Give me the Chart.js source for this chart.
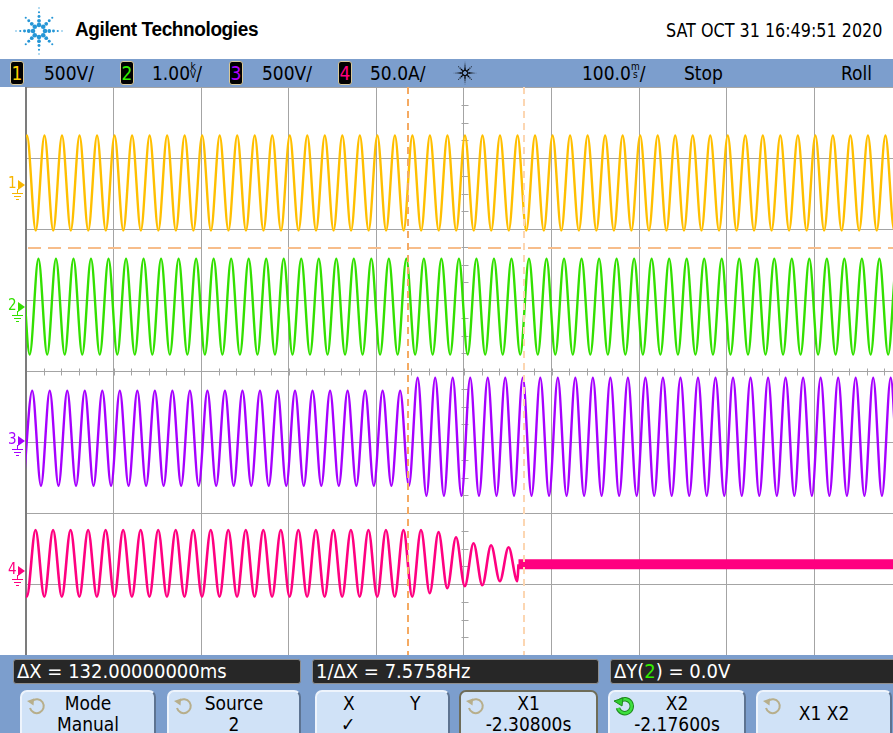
<!DOCTYPE html>
<html>
<head>
<meta charset="utf-8">
<script src="https://cdn.jsdelivr.net/npm/chart.js@4.4.1/dist/chart.umd.min.js"></script>
<style>
  body { margin:0; width:893px; height:733px; overflow:hidden; background:#fff; position:relative;
         font-family:"Liberation Sans Narrow","DejaVu Sans Condensed","Liberation Sans",sans-serif; color:#000; }
  #head { position:absolute; left:0; top:0; width:893px; height:59px; background:#fff; }
  #logo { position:absolute; left:14px; top:5px; }
  #brand { position:absolute; left:75px; top:18px; font:bold 20px "Liberation Sans",Arial,sans-serif; letter-spacing:-0.4px;
           transform:scaleX(0.95); transform-origin:left center; }
  #stamp { position:absolute; right:11px; top:19px; font-size:19px; transform:scaleX(0.935); transform-origin:right center; }
  .bar { position:absolute; left:0; width:893px; background:#7c9ecd; }
  #chbar { top:59px; height:28px; }
  .lbl { position:absolute; top:0; line-height:28px; font-size:19px; white-space:nowrap; }
  .chn { position:absolute; top:2px; width:12px; height:22px; background:#000; border:1px solid #d8c99a;
         border-radius:3px; font-size:19px; line-height:22px; text-align:center; }
  .stk { display:inline-block; font-size:10px; line-height:8px; vertical-align:2px; text-align:center; }
  #spark { position:absolute; left:452px; top:2px; }
  #plot { position:absolute; left:0; top:80px; }
  #meas { top:655px; height:35px; }
  .mbox { position:absolute; top:4px; height:25px; background:#272727; border:1px solid #8f8f8f; border-radius:3px;
          color:#fff; font-size:20px; line-height:23px; padding-left:3px; box-sizing:border-box; white-space:nowrap; overflow:hidden; }
  #keys { top:689px; height:44px; }
  .key { position:absolute; top:1px; height:50px; background:#d0e2f7; border:2px solid #eef4fc; border-right-color:#5d7391;
         border-radius:7px 7px 0 0; box-sizing:border-box; text-align:center; font-size:19px; line-height:21px; padding-top:1px; }
  .key svg { position:absolute; left:4px; top:4px; }
</style>
</head>
<body>
<canvas id="plot" width="910" height="584" style="width:910px;height:584px"></canvas>

<div id="head">
  <canvas id="logo" width="50" height="52"></canvas>
  <div id="brand">Agilent Technologies</div>
  <div id="stamp">SAT OCT 31 16:49:51 2020</div>
</div>

<div id="chbar" class="bar">
  <div class="chn" style="left:10px;color:#ffd000">1</div>
  <div class="lbl" style="left:44px">500V/</div>
  <div class="chn" style="left:120px;color:#33ee00">2</div>
  <div class="lbl" style="left:152px">1.00<span class="stk">k<br>V</span>/</div>
  <div class="chn" style="left:229px;color:#b000ff">3</div>
  <div class="lbl" style="left:262px">500V/</div>
  <div class="chn" style="left:338px;color:#ff0080">4</div>
  <div class="lbl" style="left:370px">50.0A/</div>
  <canvas id="spark" width="26" height="24"></canvas>
  <div class="lbl" style="left:582px">100.0<span class="stk">m<br>s</span>/</div>
  <div class="lbl" style="left:684px">Stop</div>
  <div class="lbl" style="left:841px">Roll</div>
</div>

<div id="meas" class="bar">
  <div class="mbox" style="left:13px;width:288px">ΔX = 132.00000000ms</div>
  <div class="mbox" style="left:312px;width:287px">1/ΔX = 7.5758Hz</div>
  <div class="mbox" style="left:610px;width:290px">ΔY(<span style="color:#33ee00">2</span>) = 0.0V</div>
</div>

<div id="keys" class="bar">
  <div class="key" style="left:20px;width:136px"><svg width="22" height="20"><path d="M6 5 A7 7 0 1 1 4 12" fill="none" stroke="#b7ae8b" stroke-width="2"/><path d="M1 5 L8 2.5 L7.5 9.5 Z" fill="#b7ae8b"/></svg>Mode<br>Manual</div>
  <div class="key" style="left:167px;width:134px"><svg width="22" height="20"><path d="M6 5 A7 7 0 1 1 4 12" fill="none" stroke="#b7ae8b" stroke-width="2"/><path d="M1 5 L8 2.5 L7.5 9.5 Z" fill="#b7ae8b"/></svg>Source<br>2</div>
  <div class="key" style="left:315px;width:135px"><span style="position:absolute;left:26px">X</span><span style="position:absolute;left:93px">Y</span><span style="position:absolute;left:24px;top:22px">✓</span></div>
  <div class="key" style="left:459px;width:139px;border-color:#6e6c58"><svg width="22" height="20"><path d="M6 5 A7 7 0 1 1 4 12" fill="none" stroke="#b7ae8b" stroke-width="2"/><path d="M1 5 L8 2.5 L7.5 9.5 Z" fill="#b7ae8b"/></svg>X1<br>-2.30800s</div>
  <div class="key" style="left:608px;width:138px"><svg width="22" height="20"><path d="M6 5 A7 7 0 1 1 4 12" fill="none" stroke="#1f8a1f" stroke-width="4.5"/><path d="M6 5 A7 7 0 1 1 4 12" fill="none" stroke="#3ee03e" stroke-width="2.5"/><path d="M0 5 L9 2 L8 10 Z" fill="#2fcf2f" stroke="#1f8a1f"/></svg>X2<br>-2.17600s</div>
  <div class="key" style="left:756px;width:136px;padding-top:11px"><svg width="22" height="20"><path d="M6 5 A7 7 0 1 1 4 12" fill="none" stroke="#b7ae8b" stroke-width="2"/><path d="M1 5 L8 2.5 L7.5 9.5 Z" fill="#b7ae8b"/></svg>X1 X2</div>
</div>

<script>
// ---------- timebase: 100 ms/div, 10 div, centred on -2.244 s ----------
const xMin = -2.744, xMax = -1.744;
const xGrid = [-2.744, -2.644, -2.544, -2.444, -2.344, -2.244, -2.144, -2.044, -1.944, -1.844, -1.744];
const yGrid = [-4, -3, -2, -1, 0, 1, 2, 3, 4];
const halfPeriod = 0.010;          // 50 Hz mains -> one extremum every 10 ms

// ---------- channel setup: units per div, ground marker position (div) ----------
const ch1PerDiv = 500,  ch1Pos = 2.62;    // V
const ch2PerDiv = 1.00, ch2Pos = 0.90;    // kV
const ch3PerDiv = 500,  ch3Pos = -0.99;   // V
const ch4PerDiv = 50,   ch4Pos = -2.82;   // A

// time of first extremum on each trace (s)
const ch1Start = -2.7529;
const ch2Start = -2.7598;
const ch3Start = -2.7469;
const ch4Start = -2.7731;

// cursors
const x1Cursor = -2.308, x2Cursor = -2.176;
const yCursor = 0.83;              // kV on channel 2 (Y1 = Y2)

// ---------- sampled extrema (alternating trough / peak) ----------
const ch1Extremes = [
  -320, 348, -320, 348, -320, 348, -320, 348, -320, 348,
  -320, 348, -320, 348, -320, 348, -320, 348, -320, 348,
  -320, 348, -320, 348, -320, 348, -320, 348, -320, 348,
  -320, 348, -320, 348, -320, 348, -320, 348, -320, 348,
  -320, 348, -320, 348, -320, 348, -320, 348, -320, 348,
  -320, 348, -320, 348, -320, 348, -320, 348, -320, 348,
  -320, 348, -320, 348, -320, 348, -320, 348, -320, 348,
  -320, 348, -320, 348, -320, 348, -320, 348, -320, 348,
  -320, 348, -320, 348, -320, 348, -320, 348, -320, 348,
  -320, 348, -320, 348, -320, 348, -320, 348, -320, 348,
  -320, 348
];

const ch2Extremes = [
  -0.67, 0.68, -0.67, 0.68, -0.67, 0.68, -0.67, 0.68, -0.67, 0.68,
  -0.67, 0.68, -0.67, 0.68, -0.67, 0.68, -0.67, 0.68, -0.67, 0.68,
  -0.67, 0.68, -0.67, 0.68, -0.67, 0.68, -0.67, 0.68, -0.67, 0.68,
  -0.67, 0.68, -0.67, 0.68, -0.67, 0.68, -0.67, 0.68, -0.67, 0.68,
  -0.67, 0.68, -0.67, 0.68, -0.67, 0.68, -0.67, 0.68, -0.67, 0.68,
  -0.67, 0.68, -0.67, 0.68, -0.67, 0.68, -0.67, 0.68, -0.67, 0.68,
  -0.67, 0.68, -0.67, 0.68, -0.67, 0.68, -0.67, 0.68, -0.67, 0.68,
  -0.67, 0.68, -0.67, 0.68, -0.67, 0.68, -0.67, 0.68, -0.67, 0.68,
  -0.67, 0.68, -0.67, 0.68, -0.67, 0.68, -0.67, 0.68, -0.67, 0.68,
  -0.67, 0.68, -0.67, 0.68, -0.67, 0.68, -0.67, 0.68, -0.67, 0.68,
  -0.67, 0.68, -0.67
];

// channel 3 steps up in amplitude right at the X1 cursor
const ch3Extremes = [
  -313, 356, -313, 356, -313, 356, -313, 356, -313, 356,
  -313, 356, -313, 356, -313, 356, -313, 356, -313, 356,
  -313, 356, -313, 356, -313, 356, -313, 356, -313, 356,
  -313, 356, -313, 356, -313, 356, -313, 356, -313, 356,
  -313, 356, -313, 356, -313, 447, -384, 447, -384, 447,
  -384, 447, -384, 447, -384, 447, -384, 447, -384, 447,
  -384, 447, -384, 447, -384, 447, -384, 447, -384, 447,
  -384, 447, -384, 447, -384, 447, -384, 447, -384, 447,
  -384, 447, -384, 447, -384, 447, -384, 447, -384, 447,
  -384, 447, -384, 447, -384, 447, -384, 447, -384, 447,
  -384, 447
];

// channel 4 (peak / trough), decays and then drops to the idle level
const ch4Extremes = [
  29, -18, 29, -18, 29, -18, 29, -18, 29, -18,
  29, -18, 29, -18, 29, -18, 29, -18, 29, -18,
  29, -18, 29, -18, 29, -18, 29, -18, 29, -18,
  29, -18, 29, -18, 29, -18, 29, -18, 29, -18,
  29, -18, 29, -18, 29, -18, 29, -18, 29, -15.5,
  27.5, -12.0, 23.9, -10.6, 19.7, -9.9, 18.3, -7.0, 16.9, -7.0
];
const ch4IdleStart = -2.1818;
const ch4Idle = 4.9;

// ---------- colours ----------
const ch1Color = "#ffbf00", ch2Color = "#33e000", ch3Color = "#a600ff", ch4Color = "#ff0080";
const gridColor = "#a4a4a4";

function trace(start, extremes, pos, perDiv) {
  return extremes.map((v, i) => ({ x: start + i * halfPeriod, y: pos + v / perDiv }));
}

const ch4Points = trace(ch4Start, ch4Extremes, ch4Pos, ch4PerDiv);
ch4Points.push({ x: ch4IdleStart, y: ch4Pos + ch4Idle / ch4PerDiv });

// ---------- decorations drawn on the graticule ----------
const scopePlugin = {
  id: "scope",
  beforeDatasetsDraw(chart) {
    const { ctx, chartArea: a, scales: { x, y } } = chart;
    ctx.save();
    ctx.strokeStyle = gridColor;
    ctx.lineWidth = 1;
    const cx = Math.round(x.getPixelForValue((xMin + xMax) / 2)) + 0.5;
    const cy = Math.round(y.getPixelForValue(0)) + 0.5;
    ctx.beginPath();
    for (let v = -4; v <= 4; v += 0.25) {
      const py = Math.round(y.getPixelForValue(v)) + 0.5;
      ctx.moveTo(cx - 3, py); ctx.lineTo(cx + 4, py);
    }
    for (let k = 0; k <= 50; k++) {
      const px = Math.round(x.getPixelForValue(xMin + k * 0.02)) + 0.5;
      ctx.moveTo(px, cy - 3); ctx.lineTo(px, cy + 4);
    }
    ctx.stroke();
    // darker left frame edge
    ctx.fillStyle = "#7c7c7c";
    ctx.fillRect(a.left - 1, a.top, 2, a.bottom - a.top);
    ctx.restore();
  },
  afterDatasetsDraw(chart) {
    const { ctx, chartArea: a, scales: { x, y } } = chart;
    ctx.save();
    ctx.lineWidth = 2;
    // horizontal Y cursor
    ctx.strokeStyle = "#f7bd8a";
    ctx.setLineDash([13, 7]);
    const py = Math.round(y.getPixelForValue(ch2Pos + yCursor / ch2PerDiv));
    ctx.beginPath(); ctx.moveTo(a.left + 2, py); ctx.lineTo(a.right, py); ctx.stroke();
    // X1 / X2 cursors
    ctx.setLineDash([7, 5]);
    [[x1Cursor, "#f5aa62"], [x2Cursor, "#fcd6b2"]].forEach(([t, c]) => {
      const px = Math.round(x.getPixelForValue(t));
      ctx.strokeStyle = c;
      ctx.beginPath(); ctx.moveTo(px, a.top); ctx.lineTo(px, a.bottom); ctx.stroke();
    });
    ctx.restore();
  },
  afterDraw(chart) {
    // channel ground markers in the left margin
    const { ctx, scales: { y } } = chart;
    const marks = [["1", ch1Pos, "#f7b500"], ["2", ch2Pos, ch2Color], ["3", ch3Pos, ch3Color], ["4", ch4Pos, ch4Color]];
    ctx.save();
    marks.forEach(([n, pos, c]) => {
      const my = Math.round(y.getPixelForValue(pos));
      ctx.fillStyle = c;
      ctx.strokeStyle = c;
      ctx.font = "15px 'Liberation Sans Narrow','DejaVu Sans Condensed',sans-serif";
      ctx.textBaseline = "middle";
      ctx.fillText(n, 8, my - 1);
      ctx.beginPath(); ctx.moveTo(18, my - 5); ctx.lineTo(25, my); ctx.lineTo(18, my + 5); ctx.closePath(); ctx.fill();
      ctx.lineWidth = 1;
      ctx.beginPath();
      ctx.moveTo(17.5, my + 4); ctx.lineTo(17.5, my + 8);
      ctx.moveTo(12, my + 8.5); ctx.lineTo(23, my + 8.5);
      ctx.moveTo(14, my + 11.5); ctx.lineTo(21, my + 11.5);
      ctx.moveTo(16, my + 14.5); ctx.lineTo(19, my + 14.5);
      ctx.stroke();
    });
    ctx.restore();
  }
};

function line(data, color, width) {
  return {
    data, borderColor: color, borderWidth: width, pointRadius: 0,
    cubicInterpolationMode: "monotone", fill: false, borderCapStyle: "butt"
  };
}

new Chart(document.getElementById("plot"), {
  type: "line",
  data: {
    datasets: [
      line(trace(ch1Start, ch1Extremes, ch1Pos, ch1PerDiv), ch1Color, 2.4),
      line(trace(ch2Start, ch2Extremes, ch2Pos, ch2PerDiv), ch2Color, 2.4),
      line(trace(ch3Start, ch3Extremes, ch3Pos, ch3PerDiv), ch3Color, 2.4),
      line(ch4Points, ch4Color, 2.6),
      line([{ x: ch4IdleStart, y: ch4Pos + ch4Idle / ch4PerDiv }, { x: xMax + 0.02, y: ch4Pos + ch4Idle / ch4PerDiv }], ch4Color, 10)
    ]
  },
  options: {
    responsive: false,
    devicePixelRatio: 1,
    animation: false,
    layout: { padding: { left: 26, right: 8, top: 7, bottom: 9 } },
    plugins: { legend: { display: false }, tooltip: { enabled: false } },
    scales: {
      x: {
        type: "linear", min: xMin, max: xMax,
        afterBuildTicks: s => { s.ticks = xGrid.map(v => ({ value: v })); },
        afterFit: s => { s.height = 0; },
        ticks: { display: false },
        border: { display: false },
        grid: { color: gridColor, lineWidth: 1, drawTicks: false }
      },
      y: {
        min: -4, max: 4,
        afterBuildTicks: s => { s.ticks = yGrid.map(v => ({ value: v })); },
        afterFit: s => { s.width = 0; },
        ticks: { display: false },
        border: { display: false },
        grid: { color: gridColor, lineWidth: 1, drawTicks: false }
      }
    }
  },
  plugins: [scopePlugin]
});

// ---------- Agilent spark logo and the acquisition icon ----------
function drawSpark(canvas, color, rMax, dot) {
  const ctx = canvas.getContext("2d");
  const cx = canvas.width / 2, cy = canvas.height / 2;
  ctx.fillStyle = color;
  for (let k = 0; k < 8; k++) {
    const a = k * Math.PI / 4;
    const steps = k % 2 === 0 ? 5 : 4;
    for (let s = 0; s < steps; s++) {
      const r = rMax * (0.26 + s * 0.185);
      ctx.beginPath();
      ctx.arc(cx + r * Math.cos(a), cy + r * Math.sin(a), dot * (1 - s * 0.18), 0, 2 * Math.PI);
      ctx.fill();
    }
  }
}
drawSpark(document.getElementById("logo"), "#2596d6", 23, 2.3);
drawSpark(document.getElementById("spark"), "#000", 11, 1.1);
</script>
</body>
</html>
